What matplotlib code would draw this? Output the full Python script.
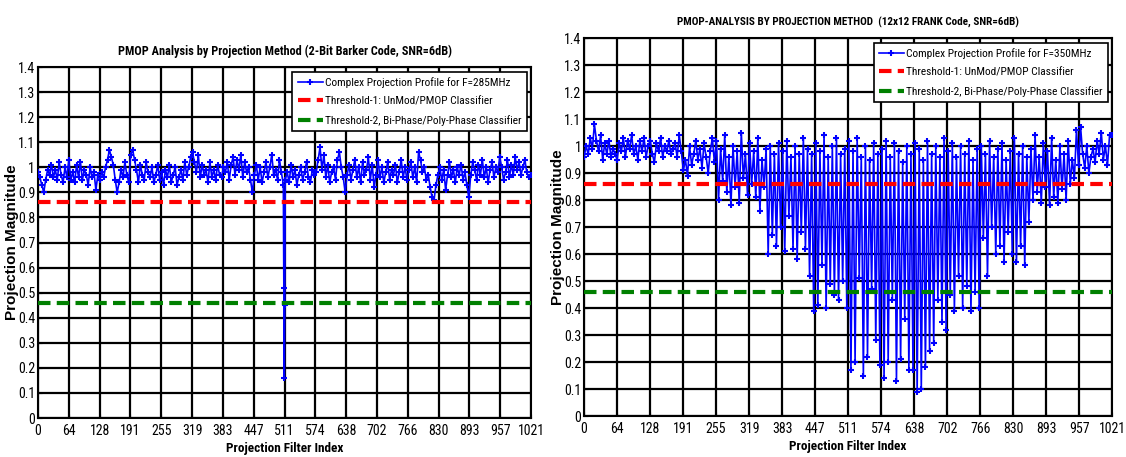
import numpy as np
import matplotlib
matplotlib.use('Agg')
import matplotlib.pyplot as plt

plt.rcParams['font.family'] = ['Roboto Condensed', 'DejaVu Sans']

### Данные: профили проекции (каждый 4-й индекс фильтра)

barker_mag = [
    0.98, 0.96, 0.93, 0.90, 0.95, 0.99, 0.97, 1.01, 0.96, 0.99, 0.95, 1.02, 0.97, 0.94, 1.00, 0.96,
    1.03, 0.95, 0.98, 0.94, 1.01, 0.96, 1.02, 0.95, 0.99, 0.97, 0.93, 1.00, 0.96, 0.98, 0.91, 0.97,
    0.95, 0.98, 0.96, 1.00, 1.03, 1.07, 1.04, 1.01, 0.95, 0.90, 0.94, 0.99, 0.96, 1.02, 0.97, 0.94,
    1.05, 1.07, 1.03, 0.99, 0.94, 1.01, 0.97, 0.95, 1.02, 0.98, 0.96, 1.00, 0.94, 0.97, 1.01, 0.95,
    0.98, 0.93, 0.99, 0.96, 1.01, 0.94, 0.97, 1.00, 0.93, 0.96, 0.99, 0.95, 1.02, 0.97, 1.00, 1.04,
    1.06, 1.02, 0.98, 1.05, 0.96, 1.01, 0.97, 0.99, 0.94, 1.02, 0.96, 0.99, 0.95, 1.01, 0.97, 0.96,
    1.00, 0.98, 1.02, 0.95, 1.01, 1.04, 0.97, 1.03, 0.99, 1.05, 0.96, 1.02, 0.98, 1.00, 0.95, 0.90,
    0.97, 1.01, 0.95, 1.00, 0.94, 0.98, 1.02, 0.96, 1.00, 1.05, 0.97, 0.99, 0.95, 1.03, 0.98, 0.93,
    0.95, 0.98, 0.94, 1.01, 0.96, 0.99, 0.93, 0.97, 1.00, 0.95, 0.98, 1.02, 0.96, 0.94, 0.99, 0.97,
    0.98, 1.03, 1.08, 0.99, 1.05, 0.96, 1.01, 0.94, 0.98, 1.00, 0.95, 1.03, 1.06, 1.00, 0.96, 0.90,
    0.97, 1.01, 0.95, 0.99, 1.03, 0.96, 1.00, 0.94, 1.02, 0.97, 0.99, 1.04, 0.95, 1.01, 0.92, 0.97,
    1.03, 0.96, 1.00, 0.94, 0.98, 1.02, 0.95, 0.99, 0.97, 1.01, 0.94, 0.98, 1.03, 0.96, 1.00, 0.95,
    0.99, 1.02, 0.96, 1.00, 0.94, 1.06, 1.03, 0.98, 1.00, 0.95, 0.97, 0.92, 0.88, 0.87, 0.93, 0.97,
    1.00, 0.95, 0.99, 0.91, 0.97, 1.02, 0.96, 0.99, 0.94, 1.00, 0.97, 1.01, 0.95, 0.98, 0.93, 0.88,
    0.97, 1.02, 0.99, 0.95, 1.01, 0.97, 1.03, 0.96, 1.00, 0.94, 0.99, 1.02, 0.96, 1.00, 0.98, 1.04,
    1.00, 0.95, 0.98, 1.03, 0.96, 1.01, 0.97, 1.04, 0.99, 1.02, 0.97, 1.00, 1.03, 0.98, 0.96, 0.97,
]
# провал на центральном фильтре
barker_dip_idx = [509, 510, 511]
barker_dip_mag = [0.52, 0.16, 0.45]

frank_mag = [
    0.96, 1.00, 0.97, 1.03, 0.99, 1.08, 1.02, 0.98, 1.04, 0.95, 1.01, 0.97, 1.02, 0.96, 0.99, 0.97,
    0.95, 1.01, 0.98, 1.03, 0.96, 1.02, 0.99, 1.04, 0.97, 1.00, 0.95, 1.02, 0.98, 1.03, 0.96, 1.00,
    1.02, 0.97, 0.94, 1.01, 0.98, 1.03, 0.96, 1.00, 0.98, 1.02, 0.97, 0.99, 1.01, 0.96, 1.04, 0.98,
    0.91, 0.95, 0.89, 1.00, 0.93, 0.97, 1.02, 0.95, 0.99, 0.92, 1.01, 0.96, 0.90, 0.98, 1.03, 0.94,
    1.02, 0.80, 0.99, 0.87, 1.04, 0.83, 0.96, 0.78, 1.00, 0.85, 0.98, 0.79, 1.05, 0.88, 0.97, 0.82,
    1.01, 0.86, 0.98, 0.81, 1.03, 0.76, 0.95, 0.85, 0.99, 0.60, 1.00, 0.67, 0.97, 0.63, 1.01, 0.70,
    0.98, 0.61, 1.02, 0.74, 0.96, 0.62, 1.00, 0.58, 0.97, 0.68, 1.03, 0.62, 0.99, 0.52, 0.97, 0.39,
    1.01, 0.41, 0.98, 0.56, 1.04, 0.40, 0.96, 0.49, 1.00, 0.45, 1.03, 0.43, 0.97, 0.50, 0.99, 0.40,
    1.02, 0.17, 0.98, 0.20, 1.03, 0.51, 0.96, 0.15, 1.00, 0.22, 0.95, 0.47, 1.01, 0.28, 0.97, 0.19,
    0.99, 0.14, 1.02, 0.20, 0.96, 0.43, 1.01, 0.13, 0.98, 0.21, 0.94, 0.36, 1.00, 0.17, 0.97, 0.17,
    1.01, 0.09, 0.99, 0.10, 0.95, 0.18, 1.02, 0.24, 0.97, 0.27, 1.00, 0.43, 0.96, 0.35, 1.03, 0.32,
    0.98, 0.45, 1.01, 0.39, 0.96, 0.52, 1.00, 0.40, 0.97, 0.48, 1.02, 0.39, 0.95, 0.46, 0.99, 0.40,
    1.00, 0.66, 0.97, 0.52, 1.02, 0.70, 0.96, 0.60, 0.99, 0.63, 1.01, 0.57, 0.95, 0.68, 0.98, 0.60,
    1.03, 0.57, 0.97, 0.63, 1.00, 0.56, 0.96, 0.72, 0.99, 0.80, 1.04, 0.83, 0.96, 0.79, 1.01, 0.85,
    0.98, 0.78, 1.03, 0.81, 0.95, 0.79, 1.00, 0.84, 0.97, 0.80, 1.02, 0.86, 0.95, 0.88, 1.06, 0.93,
    1.07, 0.97, 0.92, 1.00, 0.90, 0.96, 0.99, 0.94, 1.02, 0.97, 1.05, 0.95, 1.00, 0.93, 1.04, 1.04,
]

threshold_1 = 0.86
threshold_2 = 0.46

xtick_labels = ['0', '64', '128', '191', '255', '319', '383', '447', '511',
                '574', '638', '702', '766', '830', '893', '957', '1021']

titles = ['PMOP Analysis by Projection Method (2-Bit Barker Code, SNR=6dB)',
          'PMOP-ANALYSIS BY PROJECTION METHOD  (12x12 FRANK Code, SNR=6dB)']
title_sizes = [8.8, 8.0]
profile_labels = ['Complex Projection Profile for F=285MHz',
                  'Complex Projection Profile for F=350MHz']


### Построение

def draw_panel(ax, idx, mag, title, title_size, profile_label):
    ax.plot(idx, mag, color='b', lw=1.2, marker='+', ms=5, mew=1.5,
            label=profile_label, zorder=3)
    ax.axhline(threshold_1, color='r', ls=(0, (3, 1.5)), lw=3,
               label='Threshold-1: UnMod/PMOP Classifier', zorder=4)
    ax.axhline(threshold_2, color='g', ls=(0, (3, 1.5)), lw=3,
               label='Threshold-2, Bi-Phase/Poly-Phase Classifier', zorder=4)

    ax.set_xlim(0, 1021)
    ax.set_ylim(0, 1.4)
    ax.set_xticks(np.linspace(0, 1021, 17))
    ax.set_xticklabels(xtick_labels)
    ax.set_yticks(np.arange(0, 15) / 10)
    ax.set_yticklabels(['0'] + ['%g' % (v / 10) for v in range(1, 15)])
    ax.tick_params(labelsize=10, direction='in', length=3, pad=2)
    ax.tick_params(axis='x', pad=4)
    ax.grid(True, color='black', lw=1.6)
    for s in ax.spines.values():
        s.set_linewidth(1.5)

    ax.set_title(title, fontsize=title_size, fontweight='bold', pad=9)
    ax.set_xlabel('Projection Filter Index', fontsize=9.5, fontweight='bold', labelpad=3)
    ax.set_ylabel('Projection Magnitude', fontsize=11, fontweight='bold',
                  family=['Liberation Sans', 'DejaVu Sans'], labelpad=-1)

    leg = ax.legend(loc='upper right', fontsize=8.2, frameon=True, fancybox=False,
                    borderaxespad=0.4, handlelength=2.2, handletextpad=0.2,
                    labelspacing=0.75, borderpad=0.45)
    leg.get_frame().set_edgecolor('black')
    leg.get_frame().set_linewidth(1.2)
    leg.get_frame().set_alpha(1)


fig = plt.figure(figsize=(11.26, 4.57), dpi=100)
ax1 = fig.add_axes([0.0337, 0.0853, 0.438, 0.768])
ax2 = fig.add_axes([0.5187, 0.0897, 0.469, 0.827])

barker_idx = list(np.arange(len(barker_mag)) * 4) + barker_dip_idx
barker_all = barker_mag + barker_dip_mag
order = np.argsort(barker_idx, kind='stable')
draw_panel(ax1, np.array(barker_idx)[order], np.array(barker_all)[order],
           titles[0], title_sizes[0], profile_labels[0])

frank_idx = np.arange(len(frank_mag)) * 4
draw_panel(ax2, frank_idx, frank_mag, titles[1], title_sizes[1], profile_labels[1])

fig.savefig('out.png', dpi=100)
